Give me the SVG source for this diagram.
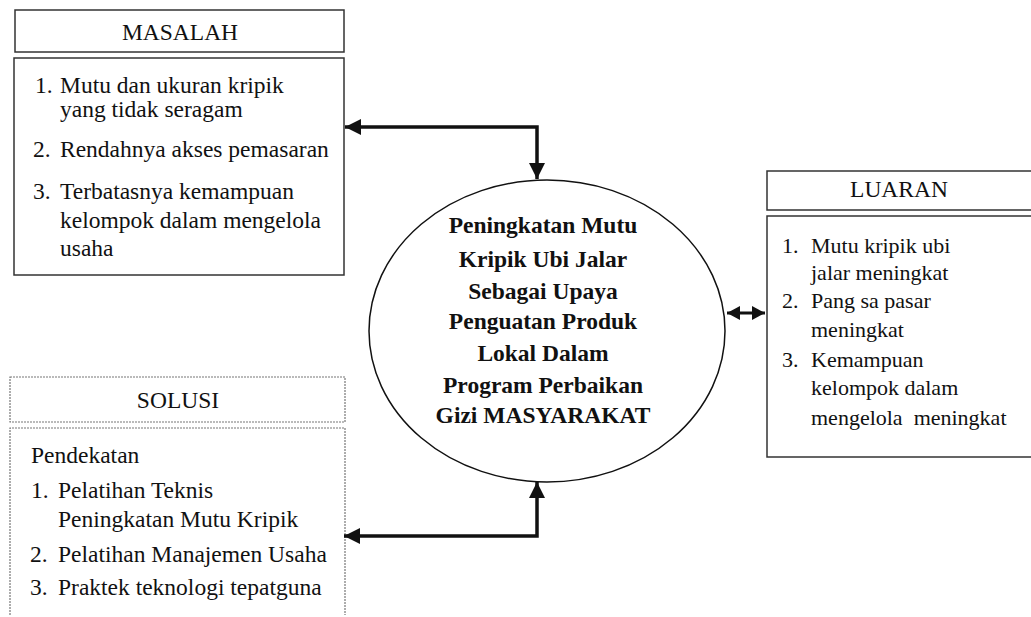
<svg xmlns="http://www.w3.org/2000/svg" width="1031" height="617" viewBox="0 0 1031 617">
<style>
.t{font-family:"Liberation Serif","Times New Roman",serif;font-size:23.5px;fill:#111}
.l{font-family:"Liberation Serif","Times New Roman",serif;font-size:22px;fill:#111}
.h{font-family:"Liberation Serif","Times New Roman",serif;font-size:23.5px;fill:#111;text-anchor:middle}
.c{font-family:"Liberation Serif","Times New Roman",serif;font-size:23.5px;font-weight:bold;fill:#111;text-anchor:middle}
.box{fill:none;stroke:#333;stroke-width:1.5}
.dbox{fill:none;stroke:#777;stroke-width:1.2;stroke-dasharray:2 1}
.conn{fill:none;stroke:#111;stroke-width:3.5}
.conn2{fill:none;stroke:#111;stroke-width:3}
</style>
<defs>
<marker id="ah" markerUnits="userSpaceOnUse" markerWidth="18" markerHeight="16" refX="16" refY="8" orient="auto-start-reverse">
<path d="M0,0 L16,8 L0,16 Z" fill="#111"/>
</marker>
<marker id="as" markerUnits="userSpaceOnUse" markerWidth="14" markerHeight="14" refX="13" refY="7" orient="auto-start-reverse">
<path d="M0,0 L13,7 L0,14 Z" fill="#111"/>
</marker>
</defs>
<rect width="1031" height="617" fill="#fff"/>
<g id="masalah">
<rect class="box" x="15" y="10" width="329" height="42"/>
<text class="h" x="180" y="40">MASALAH</text>
<rect class="box" x="14" y="58" width="330" height="217"/>
<text class="t" x="35" y="93">1.</text><text class="t" x="60" y="93">Mutu dan ukuran kripik</text>
<text class="t" x="60" y="117">yang tidak seragam</text>
<text class="t" x="33" y="157">2.</text><text class="t" x="60" y="157">Rendahnya akses pemasaran</text>
<text class="t" x="33" y="199">3.</text><text class="t" x="60" y="199">Terbatasnya kemampuan</text>
<text class="t" x="60" y="228">kelompok dalam mengelola</text>
<text class="t" x="60" y="256">usaha</text>
</g>
<g id="solusi">
<rect class="dbox" x="10" y="377" width="335" height="45"/>
<text class="h" x="178" y="408">SOLUSI</text>
<path class="dbox" d="M10,615 L10,428 L345,428 L345,615"/>
<text class="t" x="31" y="463">Pendekatan</text>
<text class="t" x="31" y="498">1.</text><text class="t" x="58" y="498">Pelatihan Teknis</text>
<text class="t" x="58" y="527">Peningkatan Mutu Kripik</text>
<text class="t" x="30" y="562">2.</text><text class="t" x="58" y="562">Pelatihan Manajemen Usaha</text>
<text class="t" x="30" y="595">3.</text><text class="t" x="58" y="595">Praktek teknologi tepatguna</text>
</g>
<g id="center">
<ellipse cx="547" cy="331" rx="178" ry="151" fill="none" stroke="#111" stroke-width="1.5"/>
<text class="c" x="543" y="233">Peningkatan Mutu</text>
<text class="c" x="543" y="267">Kripik Ubi Jalar</text>
<text class="c" x="543" y="299">Sebagai Upaya</text>
<text class="c" x="543" y="329">Penguatan Produk</text>
<text class="c" x="543" y="361">Lokal Dalam</text>
<text class="c" x="543" y="393">Program Perbaikan</text>
<text class="c" x="543" y="423">Gizi MASYARAKAT</text>
</g>
<g id="luaran">
<path class="box" d="M1031,171 L767,171 L767,210 L1031,210" stroke="#555"/>
<text class="h" x="899" y="197">LUARAN</text>
<path class="box" d="M1031,216 L767,216 L767,457 L1031,457"/>
<text class="l" x="782" y="253">1.</text><text class="l" x="811" y="253">Mutu kripik ubi</text>
<text class="l" x="811" y="280">jalar meningkat</text>
<text class="l" x="782" y="308">2.</text><text class="l" x="811" y="308">Pang sa pasar</text>
<text class="l" x="811" y="337">meningkat</text>
<text class="l" x="782" y="367">3.</text><text class="l" x="811" y="367">Kemampuan</text>
<text class="l" x="811" y="395">kelompok dalam</text>
<text class="l" x="811" y="425" xml:space="preserve">mengelola  meningkat</text>
</g>
<g id="connectors">
<path class="conn" d="M345,127 L537,127 L537,179" marker-start="url(#ah)" marker-end="url(#ah)"/>
<path class="conn" d="M537,482 L537,536 L344,536" marker-start="url(#ah)" marker-end="url(#ah)"/>
<path class="conn2" d="M727,313 L765,313" marker-start="url(#as)" marker-end="url(#as)"/>
</g>
</svg>
